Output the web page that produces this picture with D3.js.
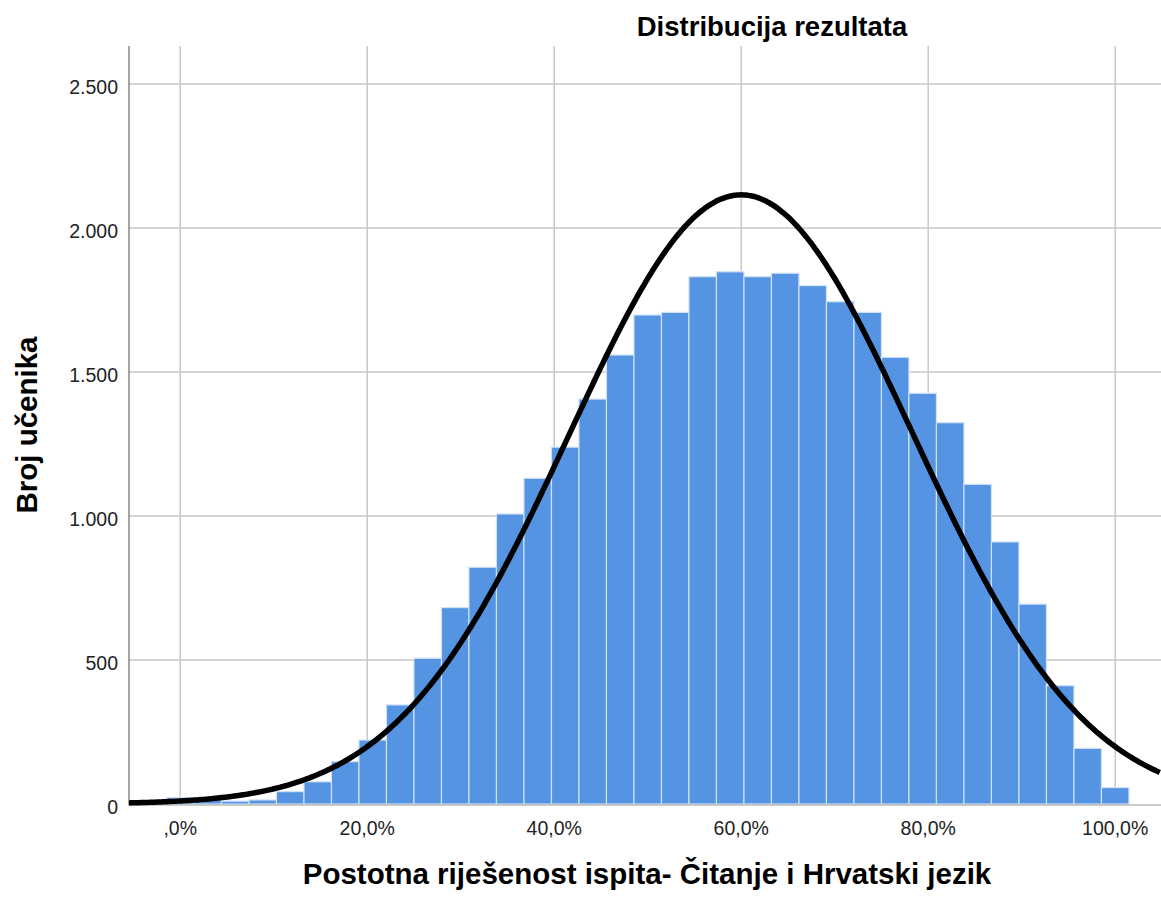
<!DOCTYPE html>
<html>
<head>
<meta charset="utf-8">
<script src="https://cdn.jsdelivr.net/npm/d3@7"></script>
<style>
  body { margin: 0; background: #fff; }
  text { font-family: "Liberation Sans", Arial, sans-serif; }
</style>
</head>
<body>
<svg id="chart" width="1161" height="899"></svg>
<script>
// Bin centres as score fraction k/34 (percent), counts
const binCenters = d3.range(0, 35).map(k => k * 100 / 34);
const binWidthPct = 100 / 34;
const counts = [22, 15, 10, 14, 43, 77, 147, 222, 344, 506, 682, 822, 1007, 1131, 1239,
                1406, 1559, 1698, 1707, 1831, 1848, 1831, 1843, 1800, 1744, 1707, 1551,
                1426, 1324, 1110, 910, 694, 411, 193, 57];
const xTicks = [0, 20, 40, 60, 80, 100];
const xTickLabels = [",0%", "20,0%", "40,0%", "60,0%", "80,0%", "100,0%"];
const yTicks = [0, 500, 1000, 1500, 2000, 2500];
const yTickLabels = ["0", "500", "1.000", "1.500", "2.000", "2.500"];
const normalMean = 60.0;
const normalSd = 18.4;
const normalN = 33170;

const title = "Distribucija rezultata";
const xTitle = "Postotna riješenost ispita- Čitanje i Hrvatski jezik";
const yTitle = "Broj učenika";

const svg = d3.select("#chart");
const pLeft = 129, pRight = 1161, pTop = 46, pBottom = 804;

const x = d3.scaleLinear().domain([-5.48, 104.9]).range([pLeft, pRight]);
const y = d3.scaleLinear().domain([0, 2632]).range([pBottom, pTop]);

// grid
const grid = svg.append("g");
grid.selectAll("line.v").data(xTicks).join("line")
  .attr("x1", d => x(d)).attr("x2", d => x(d))
  .attr("y1", pTop).attr("y2", pBottom)
  .attr("stroke", "#c9c9c9").attr("stroke-width", 1.5);
grid.selectAll("line.h").data(yTicks.slice(1)).join("line")
  .attr("x1", pLeft).attr("x2", pRight)
  .attr("y1", d => y(d)).attr("y2", d => y(d))
  .attr("stroke", "#c9c9c9").attr("stroke-width", 1.5);

// bars
svg.append("g").selectAll("rect").data(binCenters).join("rect")
  .attr("x", (d) => x(d - binWidthPct / 2))
  .attr("width", (d) => x(d + binWidthPct / 2) - x(d - binWidthPct / 2))
  .attr("y", (d, i) => y(counts[i]))
  .attr("height", (d, i) => y(0) - y(counts[i]))
  .attr("fill", "#5594e2")
  .attr("stroke", "#cfe0f7")
  .attr("stroke-width", 1.2);

// axes lines
svg.append("line").attr("x1", pLeft).attr("x2", pLeft).attr("y1", pTop).attr("y2", pBottom + 1)
  .attr("stroke", "#888").attr("stroke-width", 1.5);
svg.append("line").attr("x1", pLeft).attr("x2", pRight).attr("y1", pBottom + 1).attr("y2", pBottom + 1)
  .attr("stroke", "#999").attr("stroke-width", 1.2);

// normal curve
const pdf = v => normalN * binWidthPct / (normalSd * Math.sqrt(2 * Math.PI)) *
  Math.exp(-0.5 * Math.pow((v - normalMean) / normalSd, 2));
const curvePts = d3.range(-5.48, 104.95, 0.25).map(v => [v, pdf(v)]);
svg.append("path")
  .datum(curvePts)
  .attr("d", d3.line().x(d => x(d[0])).y(d => y(d[1])).curve(d3.curveBasis))
  .attr("fill", "none").attr("stroke", "#000").attr("stroke-width", 5.5);

// tick labels
svg.append("g").selectAll("text").data(yTicks).join("text")
  .attr("x", 118).attr("y", d => y(d) + 10)
  .attr("text-anchor", "end").attr("font-size", 19.5).attr("fill", "#222")
  .text((d, i) => yTickLabels[i]);
svg.append("g").selectAll("text").data(xTicks).join("text")
  .attr("x", d => x(d)).attr("y", 835)
  .attr("text-anchor", "middle").attr("font-size", 19.5).attr("fill", "#222")
  .text((d, i) => xTickLabels[i]);

// titles
svg.append("text").attr("x", 772).attr("y", 36).attr("text-anchor", "middle")
  .attr("font-size", 27.5).attr("font-weight", "bold").text(title);
svg.append("text").attr("x", 647).attr("y", 884).attr("text-anchor", "middle")
  .attr("font-size", 29.5).attr("font-weight", "bold").text(xTitle);
svg.append("text").attr("transform", "translate(37,425) rotate(-90)").attr("text-anchor", "middle")
  .attr("font-size", 29.5).attr("font-weight", "bold").text(yTitle);
</script>
</body>
</html>
